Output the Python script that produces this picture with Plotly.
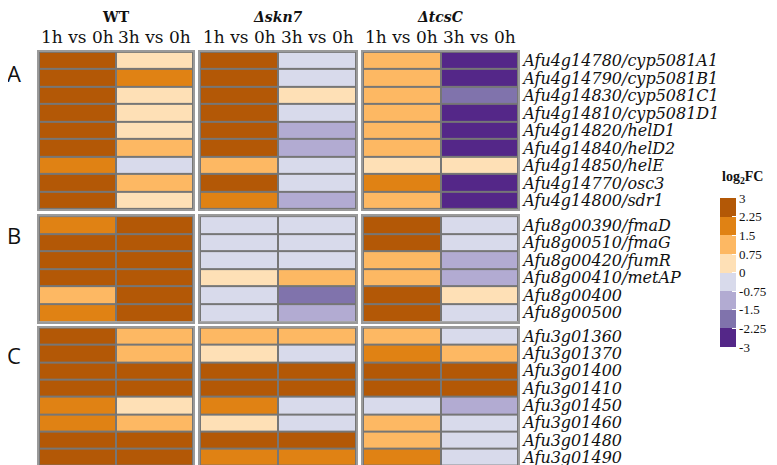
import plotly.graph_objects as go

W, H = 777, 465

strains = ["WT", "Δskn7", "ΔtcsC"]
times = ["1h vs 0h", "3h vs 0h"]

genes_A = ["Afu4g14780/cyp5081A1", "Afu4g14790/cyp5081B1", "Afu4g14830/cyp5081C1",
           "Afu4g14810/cyp5081D1", "Afu4g14820/helD1", "Afu4g14840/helD2",
           "Afu4g14850/helE", "Afu4g14770/osc3", "Afu4g14800/sdr1"]
genes_B = ["Afu8g00390/fmaD", "Afu8g00510/fmaG", "Afu8g00420/fumR",
           "Afu8g00410/metAP", "Afu8g00400", "Afu8g00500"]
genes_C = ["Afu3g01360", "Afu3g01370", "Afu3g01400", "Afu3g01410",
           "Afu3g01450", "Afu3g01460", "Afu3g01480", "Afu3g01490"]

# log2FC values [1h vs 0h, 3h vs 0h] per gene
A_WT = [[2.6, 0.4], [2.6, 1.9], [2.6, 0.4], [2.6, 0.4], [2.6, 0.4], [2.6, 1.1], [1.9, -0.4], [2.6, 1.1], [2.6, 0.4]]
A_skn7 = [[2.6, -0.4], [2.6, -0.4], [2.6, 0.4], [2.6, -0.4], [2.6, -1.1], [2.6, -1.1], [1.1, -0.4], [2.6, -0.4], [1.9, -1.1]]
A_tcsC = [[1.1, -2.6], [1.1, -2.6], [1.1, -1.9], [1.1, -2.6], [1.1, -2.6], [1.1, -2.6], [0.4, 0.4], [1.9, -2.6], [1.1, -2.6]]

B_WT = [[1.9, 2.6], [2.6, 2.6], [2.6, 2.6], [2.6, 2.6], [1.1, 2.6], [1.9, 2.6]]
B_skn7 = [[-0.4, -0.4], [-0.4, -0.4], [-0.4, -0.4], [0.4, 1.1], [-0.4, -1.9], [-0.4, -1.1]]
B_tcsC = [[2.6, -0.4], [2.6, -0.4], [1.1, -1.1], [1.1, -1.1], [2.6, 0.4], [2.6, -0.4]]

C_WT = [[2.6, 1.1], [2.6, 1.1], [2.6, 2.6], [2.6, 2.6], [1.9, 0.4], [1.9, 1.1], [2.6, 2.6], [2.6, 2.6]]
C_skn7 = [[1.1, 1.1], [0.4, -0.4], [2.6, 2.6], [2.6, 2.6], [1.9, -0.4], [0.4, -0.4], [2.6, 2.6], [1.9, 1.9]]
C_tcsC = [[1.1, -0.4], [1.9, 1.1], [2.6, 2.6], [2.6, 2.6], [-0.4, -1.1], [1.1, -0.4], [1.1, -0.4], [1.9, -0.4]]

legend_ticks = [3, 2.25, 1.5, 0.75, 0, -0.75, -1.5, -2.25, -3]
palette = ["#542788", "#8073AC", "#B2ABD2", "#D8DAEB", "#FEE0B6", "#FDB863", "#E08214", "#B35806"]

panels = [
    ("A", genes_A, [A_WT, A_skn7, A_tcsC]),
    ("B", genes_B, [B_WT, B_skn7, B_tcsC]),
    ("C", genes_C, [C_WT, C_skn7, C_tcsC]),
]

# layout geometry (pixels)
col_px = [(31, 185), (192, 348), (355, 510)]
row_px = [(43, 201), (208, 314), (320, 459)]

colorscale = []
n = len(palette)
for i, c in enumerate(palette):
    colorscale.append([i / n, c])
    colorscale.append([(i + 1) / n, c])

fig = go.Figure()
layout = {}
idx = 0
serif = "DejaVu Serif"
tserif = "Liberation Serif"
for pi, (letter, genes, data) in enumerate(panels):
    y0, y1 = row_px[pi]
    for si, strain in enumerate(strains):
        idx += 1
        x0, x1 = col_px[si]
        xa = "x" if idx == 1 else f"x{idx}"
        ya = "y" if idx == 1 else f"y{idx}"
        fig.add_trace(go.Heatmap(
            z=data[si], x=times, y=genes, coloraxis="coloraxis",
            xgap=2, ygap=2, xaxis=xa, yaxis=ya,
            hovertemplate="%{y}<br>%{x}: %{z}<extra>" + strain + "</extra>",
        ))
        key = "" if idx == 1 else str(idx)
        layout["xaxis" + key] = dict(
            domain=[x0 / W, x1 / W], anchor=ya, side="top",
            showticklabels=False, ticks="", showgrid=False, zeroline=False,
            showline=True, linecolor="#9a9a9a", linewidth=2, mirror=True,
            fixedrange=True,
        )
        layout["yaxis" + key] = dict(
            domain=[1 - y1 / H, 1 - y0 / H], anchor=xa, side="right",
            autorange="reversed", showticklabels=(si == 2), ticks="",
            tickmode="array", tickvals=genes, ticktext=genes,
            showgrid=False, zeroline=False,
            tickfont=dict(family=serif, size=16, color="#111", style="italic"),
            showline=True, linecolor="#9a9a9a", linewidth=2, mirror=True,
            fixedrange=True,
        )

annotations = []
for si, strain in enumerate(strains):
    x0, x1 = col_px[si]
    txt = "<b>WT</b>" if si == 0 else f"<b><i>{strain}</i></b>"
    annotations.append(dict(x=(x0 + x1) / 2 / W, y=1 + 2 / H, xref="paper", yref="paper",
                            text=txt, showarrow=False, xanchor="center", yanchor="top",
                            font=dict(family=serif, size=14, color="#111")))
    # column headers (time comparisons)
    cw = (x1 - x0) / len(times)
    for ti, t in enumerate(times):
        annotations.append(dict(x=(x0 + cw * (ti + 0.5)) / W, y=1 - 40 / H,
                                xref="paper", yref="paper", text=t, showarrow=False,
                                xanchor="center", yanchor="bottom",
                                font=dict(family=serif, size=17, color="#111")))
letter_y = [64, 227, 347]
for pi, (letter, _, _) in enumerate(panels):
    annotations.append(dict(x=-3 / W, y=1 - letter_y[pi] / H, xref="paper", yref="paper",
                            text=letter, showarrow=False, xanchor="left", yanchor="middle",
                            font=dict(family="Open Sans", size=22, color="#111")))
# colour legend title
annotations.append(dict(x=712 / W, y=1 - 180 / H, xref="paper", yref="paper",
                        text="<b>log<sub>2</sub>FC</b>", showarrow=False,
                        xanchor="left", yanchor="bottom",
                        font=dict(family=tserif, size=14, color="#111")))

fig.update_layout(
    width=W, height=H, margin=dict(l=0, r=0, t=0, b=0),
    paper_bgcolor="white", plot_bgcolor="#767676",
    annotations=annotations,
    coloraxis=dict(
        colorscale=colorscale, cmin=-3, cmax=3,
        colorbar=dict(
            x=712 / W, xanchor="left", y=1 - 190 / H, yanchor="top",
            lenmode="pixels", len=149, thickness=16, thicknessmode="pixels",
            tickvals=legend_ticks, ticktext=[str(t) for t in legend_ticks],
            ticks="inside", ticklen=4, tickcolor="white", tickwidth=1,
            tickfont=dict(family=tserif, size=13, color="#111"),
            outlinewidth=0, xpad=0, ypad=0,
        ),
    ),
    showlegend=False,
    **layout,
)

fig.write_html("out.html")
